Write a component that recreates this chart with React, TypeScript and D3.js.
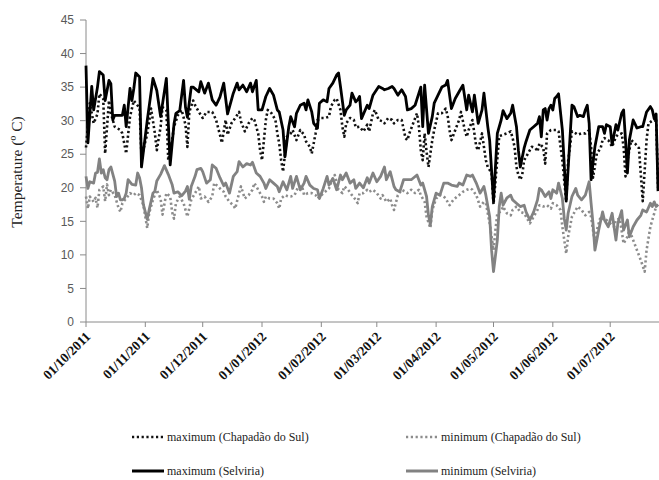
import React from "react";
import * as d3 from "d3";

const START = Date.UTC(2011, 9, 1);
const DAY = 86400000;
const END = START + 299.5 * DAY;

const yTicks = [0, 5, 10, 15, 20, 25, 30, 35, 40, 45];
const monthTicks = d3.utcMonth.range(new Date(START), new Date(Date.UTC(2012, 6, 2)));
const fmt = d3.utcFormat("%d/%m/%Y");

// [day offset from 01/10/2011, °C]
const maxChapadao: [number, number][] = [[0,26],[2,32.6],[4,29.6],[6,31],[7,34],[9,33.3],[10,25.1],[12,33],[13,31.1],[15,29.1],[18,28.6],[19,28.1],[21,25.1],[23,30.6],[25,33],[26,32.6],[28,31.9],[29,24.6],[32,28],[34,31.8],[36,28.1],[37,25.6],[39,29.1],[40,32],[42,31.6],[43,24.1],[45,27.1],[46,29.1],[48,30.8],[50,31.6],[52,29.4],[53,26.1],[54,31.3],[56,33],[57,32.3],[59,31.3],[61,30.4],[63,31.3],[66,31.3],[68,30.1],[70,27.9],[71,26.7],[73,30.1],[74,27.9],[76,29.6],[78,30.4],[80,31.3],[81,29.9],[83,28.4],[85,29.6],[87,30.4],[88,30.1],[90,28.1],[91,25.6],[92,24.1],[94,30.1],[95,31.6],[97,31.1],[99,30.1],[100,28.1],[101,26.6],[102,24.1],[103,22.4],[105,27.6],[107,28.1],[108,28.6],[110,27.1],[112,28.6],[114,27.9],[115,26.9],[117,26.1],[118,25.1],[120,28.1],[121,30.1],[123,30.4],[125,30.4],[127,30.6],[128,32.1],[130,33.1],[131,33.3],[133,31.6],[134,29.1],[135,27.6],[136,29.6],[138,30.4],[140,30.1],[141,29],[143,29.1],[145,28.4],[147,29.4],[148,28.4],[150,31.1],[151,31.6],[153,30.1],[155,29.9],[156,29.6],[158,30.4],[160,30.1],[161,29.6],[163,30.1],[165,30.1],[167,27.4],[168,27.1],[169,28.1],[171,29.6],[173,31.1],[174,29.1],[175,25.6],[176,24.1],[177,28.1],[178,25.4],[179,23.1],[181,27.1],[182,28.6],[184,31.1],[186,31.1],[188,31.8],[189,30.8],[190,28.6],[191,27.1],[193,28.6],[195,30.1],[196,31.3],[198,28.6],[199,27.6],[200,28.6],[202,30.1],[204,26.1],[205,25.6],[207,28.1],[208,26.1],[209,24.1],[210,23.1],[212,22.2],[213,17.5],[216,27.7],[218,27.9],[220,28.1],[222,28.4],[223,27.4],[224,26.1],[225,23.1],[226,21.9],[227,21.2],[228,21.9],[229,24.1],[231,25.1],[233,26.1],[235,25.9],[236,25.4],[237,26.6],[239,26],[240,23.6],[241,28.1],[243,28.6],[244,28.6],[246,28.6],[247,28.4],[249,24],[251,18],[252,24],[254,28.4],[256,28.1],[257,27.9],[259,28.1],[261,28.1],[263,28.6],[264,26.1],[265,21.5],[267,25.1],[269,25.9],[270,27.1],[271,27.4],[273,27.1],[275,26.1],[277,27.6],[278,27.9],[280,28.1],[281,26.1],[282,21.7],[283,24.1],[285,27.1],[287,26.6],[289,25.9],[290,22],[291,18],[293,27.1],[294,29.6],[296,30],[297,30],[298,30.4],[299,20]];

const minChapadao: [number, number][] = [[0,18.7],[1,16.9],[2,18.7],[4,17.9],[5,18.5],[6,17],[7,19.7],[9,20.2],[10,18],[11,20.5],[12,18.9],[13,19.7],[15,18.9],[17,17],[18,16.4],[19,17.7],[21,18.4],[23,19.2],[25,18.9],[26,19.2],[28,18.9],[30,17.4],[32,14],[33,16.2],[35,18.2],[37,19.7],[39,18.4],[40,16],[42,19.2],[44,18.7],[45,16.4],[46,15.4],[47,17.7],[49,18.7],[51,17.7],[52,16.7],[53,15.7],[55,18.2],[57,19.2],[59,20.2],[60,18.4],[62,18.7],[64,17.9],[66,18.7],[67,20.7],[69,20.2],[71,19.6],[72,19.4],[73,18.7],[75,17.9],[77,17.4],[78,16.9],[80,19.2],[81,20.2],[83,18.4],[85,18.9],[87,19.7],[88,20.7],[90,19.7],[92,18.7],[93,17.9],[94,18.7],[96,18.4],[98,18.4],[100,17.7],[101,16.9],[102,18.4],[104,18.9],[106,18.7],[107,18.7],[109,18.9],[111,20.2],[113,20.2],[114,18.9],[116,19.2],[118,19.2],[120,18.9],[121,18.4],[123,18.9],[125,19.4],[127,19.9],[128,20.7],[130,21.9],[132,19.7],[134,19.2],[135,20.2],[137,19.7],[139,18.9],[141,18.2],[142,17.7],[143,19.2],[145,19.2],[147,19.7],[148,19.4],[150,19.7],[152,19.2],[154,18.4],[155,18.9],[157,17.9],[159,18.4],[160,17.4],[161,16.7],[163,18.9],[165,19.7],[167,19.4],[168,19.2],[170,19.7],[172,19.2],[174,19.7],[175,18.9],[177,17.9],[178,15.7],[180,14],[181,16.7],[183,18.4],[185,18.9],[187,18.7],[188,18.4],[190,17.4],[192,18.2],[194,18.7],[195,18.9],[197,19.4],[199,19.7],[201,19.9],[202,19.7],[204,18.9],[206,17.2],[208,17.9],[209,17.7],[211,14.7],[212,12.7],[213,10.7],[214,13.7],[215,16.2],[217,16.5],[218,17.2],[219,16.7],[220,16.2],[222,15.9],[223,16.7],[225,17.2],[227,16.4],[229,16.2],[230,15.7],[232,14.7],[234,15.7],[236,16.7],[237,17.4],[239,17.2],[241,17.4],[243,16.9],[244,17.7],[246,17.4],[248,16.7],[249,14.2],[251,10.2],[252,12.7],[254,15.7],[256,16.7],[257,17.2],[259,16.7],[261,15.9],[263,16.4],[264,15.7],[266,11.7],[267,13.7],[269,15.7],[270,15.4],[272,15.2],[274,14.7],[276,14.2],[277,15.2],[279,15.4],[281,11.7],[283,12.7],[284,13.7],[286,12.2],[288,10.7],[290,9.2],[292,7.5],[293,10.7],[295,14.2],[297,16.2],[298,17.2],[299,17.5]];

const maxSelviria: [number, number][] = [[0,38.2],[1,26.7],[3,35.1],[4,31.6],[6,35],[7,37.3],[9,36.8],[10,33],[12,36],[13,35.5],[14,30.1],[15,30.8],[19,30.8],[20,32.3],[21,29.1],[23,34.8],[24,33],[25,34.8],[26,37.1],[28,36.5],[29,23.1],[32,30],[35,36.3],[37,34.5],[39,30.6],[42,36.3],[44,23.4],[46,29.5],[47,31.1],[49,31.5],[51,36],[52,32],[53,30.5],[55,35],[56,35],[59,34.3],[60,35.8],[62,34.1],[64,35.6],[66,33.1],[68,32.3],[70,33.5],[72,35.6],[74,31],[77,34.1],[79,35.6],[80,34.6],[82,35.3],[84,34.3],[86,35.6],[87,34.3],[89,36],[90,31.6],[92,31.6],[94,33.6],[96,34.8],[98,33.8],[100,31.6],[101,31.3],[103,28.6],[104,24.6],[106,29.1],[107,30.6],[109,29.1],[110,31.1],[112,32.3],[114,32.6],[115,31.6],[116,33.1],[118,31.3],[119,29.6],[121,28.9],[122,32.6],[124,33.1],[126,32.8],[127,34.8],[129,35.6],[131,36.8],[132,37.1],[133,35.1],[135,30.8],[136,31.6],[138,32.3],[139,34.1],[141,32.8],[142,33.1],[143,33.6],[144,30.3],[147,32.3],[148,31.8],[150,33.8],[153,35.1],[155,34.8],[156,34.6],[158,34.8],[160,35.1],[161,34.8],[163,33.8],[165,34.6],[167,33.6],[168,31.6],[170,31.8],[172,32.3],[174,34.1],[175,35],[176,29.1],[177,35.3],[179,28.1],[181,30.6],[182,32.6],[184,33.8],[186,35],[188,35.3],[189,36],[191,31.8],[193,33.3],[195,34.3],[197,35.3],[199,31.6],[200,33.8],[202,31.3],[203,33.8],[205,29.6],[207,31.6],[208,34.1],[210,29.1],[211,27],[213,18],[215,28.1],[217,30.1],[218,31.5],[220,30.3],[222,31.1],[223,32.3],[225,29.1],[226,25.6],[227,23.1],[229,25.9],[230,26.9],[232,28.6],[234,29.1],[236,29.6],[237,30.6],[238,27.6],[239,31.6],[240,31.8],[241,30.1],[242,31.8],[243,32.3],[244,31.6],[245,33.3],[246,33.6],[247,34],[249,28.6],[251,18],[254,32.3],[255,32.1],[257,30.6],[258,30.8],[260,30.6],[261,31.6],[262,32.3],[263,29.6],[264,21.2],[266,26.1],[268,29.1],[270,29.1],[271,28.1],[272,29.4],[274,29.1],[275,26.4],[277,29.4],[278,28.6],[280,31.1],[281,31.6],[282,27.1],[283,22.2],[284,27.1],[286,30.1],[288,28.9],[290,29.1],[291,29.1],[293,31.3],[295,32.1],[296,31.6],[297,30.3],[298,31],[299,19.5]];

const minSelviria: [number, number][] = [[0,21.7],[1,19.9],[2,20.9],[4,20.7],[5,22.2],[6,22.3],[7,24.3],[8,22.2],[9,22.7],[10,21.5],[11,21.2],[12,22.7],[13,23.1],[15,21],[16,18.7],[17,19.2],[18,18.2],[19,18.2],[20,18.4],[21,19.2],[22,21.2],[24,20.5],[26,20.4],[27,22.2],[28,21.5],[29,20],[30,17.5],[32,15.3],[33,16.7],[35,19.2],[36,19.5],[37,21],[39,22],[41,23.3],[43,22],[45,20.5],[46,19.2],[48,19.4],[50,18.8],[52,19.5],[53,20.2],[54,18.3],[55,20.2],[57,21.7],[58,22.7],[60,22.9],[61,22.4],[63,20.7],[65,21.2],[66,23.4],[68,22.9],[70,21.5],[72,20.3],[73,20.7],[75,19.2],[77,21.7],[79,22.4],[80,23.9],[82,23.1],[84,23.6],[86,23.4],[87,23.8],[89,22.2],[91,21.7],[93,20.7],[94,19.9],[96,21.2],[98,20.7],[100,20.2],[101,19.4],[103,20.9],[105,19.7],[107,21.7],[108,19.9],[110,21.7],[112,19.7],[114,20.7],[115,21.7],[117,20.4],[119,19.9],[121,19.7],[122,18.4],[124,19.9],[126,21.7],[127,20.4],[129,21.4],[131,19.7],[133,21.9],[134,21.2],[136,22.2],[138,20.7],[140,21.2],[141,19.9],[143,20.7],[145,20],[147,21.5],[148,20.7],[150,22.2],[152,20.9],[154,21.7],[156,23.1],[157,21.2],[159,22.4],[161,20.2],[162,19.7],[164,19.4],[166,21.2],[168,21.2],[170,21.2],[173,21.9],[175,20.4],[176,20.7],[178,18.7],[179,15.9],[180,14.5],[181,17.2],[183,19.2],[185,18.9],[187,20.7],[189,20.7],[191,20.4],[194,20.2],[195,20.7],[197,20.4],[199,21.9],[201,21.7],[202,21.9],[204,20.7],[206,19.2],[208,20.2],[209,18.9],[211,15.7],[212,10.7],[213,7.5],[215,12.2],[216,17.2],[217,19.2],[218,17.4],[220,18.5],[222,18.9],[223,18.2],[225,17.7],[227,17.2],[229,17.4],[230,16.4],[232,15.2],[234,16.4],[236,18.2],[237,19.9],[238,19.7],[240,18.7],[242,19.4],[243,18.4],[244,19.7],[246,19.2],[247,20.7],[249,18.4],[250,15.4],[251,13.7],[252,16.2],[254,18.7],[256,19.9],[257,18.9],[259,18.2],[261,18.9],[263,20.9],[264,17.7],[265,14.7],[266,10.7],[268,13.7],[270,16.4],[271,15.2],[273,14.2],[275,16.2],[277,12.2],[278,14.7],[280,16.6],[281,13.7],[283,15.2],[284,12.7],[286,14.2],[288,15.2],[290,15.9],[291,16.7],[293,16.4],[295,17.7],[296,17.2],[297,17.9],[298,17.2],[299,17.5]];

const seriesNames = [
  "maximum (Chapadão do Sul)",
  "minimum (Chapadão do Sul)",
  "maximum (Selviria)",
  "minimum (Selviria)",
];

export default function App() {
  const W = 659, H = 480;
  const x = d3.scaleUtc().domain([new Date(START), new Date(END)]).range([86, 659]);
  const y = d3.scaleLinear().domain([0, 45]).range([322, 20]);
  const line = d3
    .line<[number, number]>()
    .x((d) => x(new Date(START + d[0] * DAY)))
    .y((d) => y(d[1]));

  const series = [
    { data: maxChapadao, color: "#111", dash: "2.2 2.6", width: 2.6 },
    { data: minChapadao, color: "#8c8c8c", dash: "2.2 2.6", width: 2.6 },
    { data: maxSelviria, color: "#000", dash: null, width: 2.8 },
    { data: minSelviria, color: "#828282", dash: null, width: 2.8 },
  ];

  const legendPos = [
    { x: 132, y: 437 },
    { x: 406, y: 437 },
    { x: 132, y: 471 },
    { x: 406, y: 471 },
  ];

  return (
    <svg
      width={W}
      height={H}
      style={{ position: "absolute", left: 0, top: 0, background: "#fff" }}
    >
      <rect width={W} height={H} fill="#fff" />
      {/* y axis */}
      <line x1={86} x2={86} y1={y(45)} y2={y(0)} stroke="#8a8a8a" strokeWidth={1} />
      {yTicks.map((t) => (
        <g key={t}>
          <line x1={80} x2={86} y1={y(t)} y2={y(t)} stroke="#8a8a8a" />
          <text
            x={74}
            y={y(t)}
            dy="0.35em"
            textAnchor="end"
            fontFamily="'Liberation Sans', Arial, sans-serif"
            fontSize={12}
            fill="#595959"
          >
            {t}
          </text>
        </g>
      ))}
      <text
        transform={`translate(22,${172}) rotate(-90)`}
        textAnchor="middle"
        fontFamily="'Liberation Serif', 'Times New Roman', serif"
        fontSize={15.5}
        fill="#222"
      >
        Temperature (º C)
      </text>
      {/* x axis */}
      <line x1={86} x2={659} y1={322} y2={322} stroke="#8a8a8a" strokeWidth={1} />
      {monthTicks.map((m) => (
        <g key={+m}>
          <line x1={x(m)} x2={x(m)} y1={322} y2={327} stroke="#8a8a8a" />
          <text
            transform={`translate(${x(m) + 2},${334}) rotate(-45)`}
            textAnchor="end"
            dy="0.35em"
            fontFamily="'Liberation Serif', 'Times New Roman', serif"
            fontWeight="bold"
            fontSize={13.5}
            fill="#111"
          >
            {fmt(m)}
          </text>
        </g>
      ))}
      {/* series */}
      {series.map((s, i) => (
        <path
          key={i}
          d={line(s.data) || ""}
          fill="none"
          stroke={s.color}
          strokeWidth={s.width}
          strokeDasharray={s.dash || undefined}
          strokeLinejoin="round"
        />
      ))}
      {/* legend */}
      {series.map((s, i) => (
        <g key={"lg" + i}>
          <line
            x1={legendPos[i].x}
            x2={legendPos[i].x + 32}
            y1={legendPos[i].y}
            y2={legendPos[i].y}
            stroke={s.color}
            strokeWidth={s.dash ? 2.4 : 3}
            strokeDasharray={s.dash || undefined}
          />
          <text
            x={legendPos[i].x + 35}
            y={legendPos[i].y}
            dy="0.35em"
            fontFamily="'Liberation Serif', 'Times New Roman', serif"
            fontSize={12}
            fill="#222"
          >
            {seriesNames[i]}
          </text>
        </g>
      ))}
    </svg>
  );
}
